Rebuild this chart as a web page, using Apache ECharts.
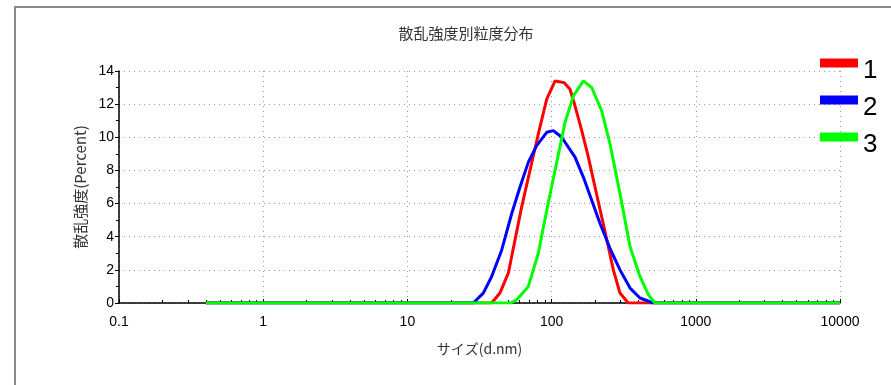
<!DOCTYPE html>
<html>
<head>
<meta charset="utf-8">
<script src="https://cdn.jsdelivr.net/npm/echarts@6/dist/echarts.min.js"></script>
<style>
  html, body { margin: 0; padding: 0; background: #fff; }
  #chart { width: 891px; height: 385px; }
</style>
</head>
<body>
<div id="chart"></div>
<script>
// 軸目盛
const xTicks = [0.1, 1, 10, 100, 1000, 10000];
const yTicks = [0, 2, 4, 6, 8, 10, 12, 14];

// 系列名
const seriesNames = ['1', '2', '3'];

// 各系列のデータ [サイズ(d.nm), 強度(%)]
const data1 = [
  [0.4, 0], [38.4, 0], [43.8, 0.6], [50.1, 1.8], [62.0, 5.8], [70.8, 8.0],
  [80.9, 10.2], [92.5, 12.3], [105.7, 13.4], [121.9, 13.3], [134.2, 12.9],
  [145.3, 11.9], [161.8, 10.4], [179.9, 8.8], [200, 7.0], [222.5, 5.2],
  [247.4, 3.4], [268, 2.0], [298, 0.6], [340, 0], [10000, 0]
];
const data2 = [
  [0.4, 0], [28.6, 0], [33.6, 0.6], [38.4, 1.6], [45.1, 3.2], [52.9, 5.4],
  [60.4, 7.0], [69.0, 8.5], [78.8, 9.5], [92.5, 10.3], [102.8, 10.4],
  [117.5, 10.0], [145.3, 8.8], [166, 7.6], [189.7, 6.2], [216.7, 4.8],
  [254, 3.3], [298, 2.0], [350, 0.9], [410, 0.3], [507, 0], [10000, 0]
];
const data3 = [
  [0.4, 0], [52, 0], [57.3, 0.2], [69, 1.0], [80.9, 3.0], [92.5, 5.6],
  [105.7, 8.0], [123.9, 10.9], [141.6, 12.5], [166, 13.4], [189.7, 13.0],
  [222.5, 11.6], [254, 9.6], [298, 6.6], [350, 3.4], [410, 1.6],
  [469, 0.5], [521, 0], [10000, 0]
];

const colors = ['#ff0000', '#0000ff', '#00ff00'];
const seriesData = [data1, data2, data3];

const chart = echarts.init(document.getElementById('chart'));

const gridLine = { show: true, lineStyle: { color: '#999', type: [1, 4], width: 1 } };

chart.setOption({
  animation: false,
  backgroundColor: '#fff',
  textStyle: { fontFamily: 'Liberation Sans, Arial, Noto Sans CJK JP, sans-serif' },
  graphic: [{
    type: 'rect',
    shape: { x: 15, y: 7, width: 900, height: 420 },
    style: { fill: 'none', stroke: '#8a8a8a', lineWidth: 2 },
    silent: true
  }],
  title: {
    text: '散乱強度別粒度分布',
    left: 461,
    top: 21,
    textAlign: 'center',
    textStyle: {
      fontSize: 15,
      fontWeight: 'normal',
      color: '#333',
      fontFamily: 'Noto Sans CJK JP, sans-serif'
    }
  },
  legend: {
    data: seriesNames,
    orient: 'vertical',
    left: 815,
    top: 53,
    itemWidth: 38,
    itemHeight: 9,
    itemGap: 11,
    icon: 'rect',
    formatter: '{t|{name}}',
    textStyle: {
      rich: { t: { fontSize: 26, color: '#000', padding: [16, 0, 0, 0] } }
    }
  },
  grid: { left: 119, right: 51, top: 71, bottom: 82 },
  xAxis: {
    type: 'log',
    logBase: 10,
    min: xTicks[0],
    max: xTicks[xTicks.length - 1],
    name: 'サイズ(d.nm)',
    nameLocation: 'middle',
    nameGap: 39,
    nameTextStyle: { fontSize: 14, color: '#333', fontFamily: 'Noto Sans CJK JP, sans-serif' },
    axisLine: { lineStyle: { color: '#000', width: 1.5 } },
    axisTick: { inside: true, length: 4, lineStyle: { color: '#000' } },
    minorTick: { show: true, splitNumber: 9, length: 3, lineStyle: { color: '#000' } },
    axisLabel: {
      fontSize: 14,
      color: '#000',
      margin: 12,
      formatter: v => String(v)
    },
    splitLine: gridLine
  },
  yAxis: {
    type: 'value',
    min: yTicks[0],
    max: yTicks[yTicks.length - 1],
    interval: 2,
    name: '散乱強度(Percent)',
    nameLocation: 'middle',
    nameGap: 21,
    nameTextStyle: { fontSize: 15, color: '#333', fontFamily: 'Noto Sans CJK JP, sans-serif' },
    axisLine: { show: true, lineStyle: { color: '#000', width: 1.5 } },
    axisTick: { show: true, length: 4, lineStyle: { color: '#000' } },
    minorTick: { show: true, splitNumber: 2, length: 3, lineStyle: { color: '#000' } },
    axisLabel: { fontSize: 14, color: '#000', margin: 5 },
    splitLine: gridLine
  },
  series: seriesNames.map((name, i) => ({
    name: name,
    type: 'line',
    data: seriesData[i],
    showSymbol: false,
    symbol: 'none',
    lineStyle: { color: colors[i], width: 3 },
    itemStyle: { color: colors[i] },
    z: 2 + i
  }))
});
</script>
</body>
</html>
